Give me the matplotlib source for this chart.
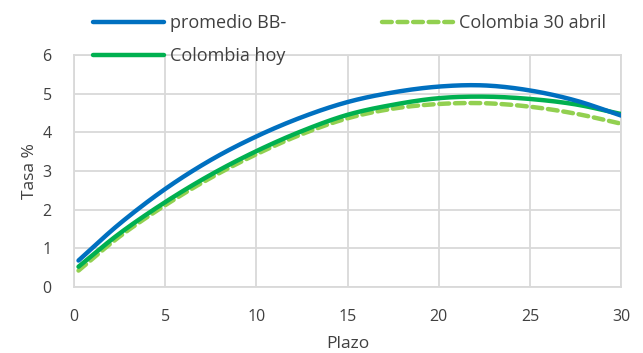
import matplotlib
matplotlib.use("Agg")
import matplotlib.pyplot as plt
import numpy as np

plazo = [0.25, 2.5, 5, 7.5, 10, 12.5, 15, 17.5, 20, 22.5, 25, 27.5, 30]
promedio_bb = [0.68, 1.63, 2.53, 3.28, 3.89, 4.39, 4.78, 5.03, 5.18, 5.21, 5.08, 4.82, 4.43]
colombia_hoy = [0.52, 1.38, 2.19, 2.90, 3.51, 4.03, 4.45, 4.71, 4.88, 4.92, 4.86, 4.72, 4.47]
colombia_30abril = [0.42, 1.30, 2.11, 2.82, 3.43, 3.95, 4.36, 4.61, 4.73, 4.75, 4.66, 4.48, 4.22]

labels = ["promedio BB-", "Colombia hoy", "Colombia 30 abril"]
xticks = [0, 5, 10, 15, 20, 25, 30]
yticks = [0, 1, 2, 3, 4, 5, 6]


def smooth(x, y, n=20):
    """Catmull-Rom rendering of a smoothed line (as a spreadsheet 'smoothed line')."""
    x = np.asarray(x, float)
    y = np.asarray(y, float)
    px = np.concatenate([[2 * x[0] - x[1]], x, [2 * x[-1] - x[-2]]])
    py = np.concatenate([[2 * y[0] - y[1]], y, [2 * y[-1] - y[-2]]])
    t = np.linspace(0, 1, n, endpoint=False)
    ox, oy = [], []
    for i in range(1, len(px) - 2):
        for arr, out in ((px, ox), (py, oy)):
            p0, p1, p2, p3 = arr[i - 1], arr[i], arr[i + 1], arr[i + 2]
            out.extend(0.5 * ((2 * p1) + (-p0 + p2) * t + (2 * p0 - 5 * p1 + 4 * p2 - p3) * t ** 2
                              + (-p0 + 3 * p1 - 3 * p2 + p3) * t ** 3))
    ox.append(x[-1])
    oy.append(y[-1])
    return ox, oy


plt.rcParams['font.family'] = ['Open Sans', 'DejaVu Sans']
txt = '#404040'

fig = plt.figure(figsize=(6.43, 3.53), dpi=100)
ax = fig.add_axes([0.115, 0.1875, 0.851, 0.657])

l1, = ax.plot(*smooth(plazo, promedio_bb), color='#0070C0', lw=3.2, solid_capstyle='round', zorder=4)
l2, = ax.plot(*smooth(plazo, colombia_hoy), color='#00B050', lw=3.2, solid_capstyle='round', zorder=3)
l3, = ax.plot(*smooth(plazo, colombia_30abril), color='#92D050', lw=3.2, ls=(0, (2.2, 1.3)),
              dash_capstyle='round', zorder=2)

ax.set_xlim(0, 30)
ax.set_ylim(0, 6)
ax.set_xticks(xticks)
ax.set_yticks(yticks)
ax.grid(True, color='#D9D9D9', lw=1.3)
ax.set_axisbelow(True)
for s in ax.spines.values():
    s.set_color('#D9D9D9')
    s.set_linewidth(1.3)
ax.tick_params(length=0, labelsize=11.5, colors=txt)
ax.tick_params(axis='y', pad=16)
ax.tick_params(axis='x', pad=16)
ax.set_xlabel('Plazo', fontsize=12.5, color=txt, labelpad=8)
ax.set_ylabel('Tasa %', fontsize=12.5, color=txt, labelpad=3)

fig.legend([l1, l2, l3], labels, ncol=2, loc='upper left',
           bbox_to_anchor=(0.12, 1.005), frameon=False, fontsize=13,
           handlelength=3.9, handletextpad=0.35, columnspacing=5.3,
           labelspacing=0.8, labelcolor=txt)

fig.savefig('out.png', dpi=100)
